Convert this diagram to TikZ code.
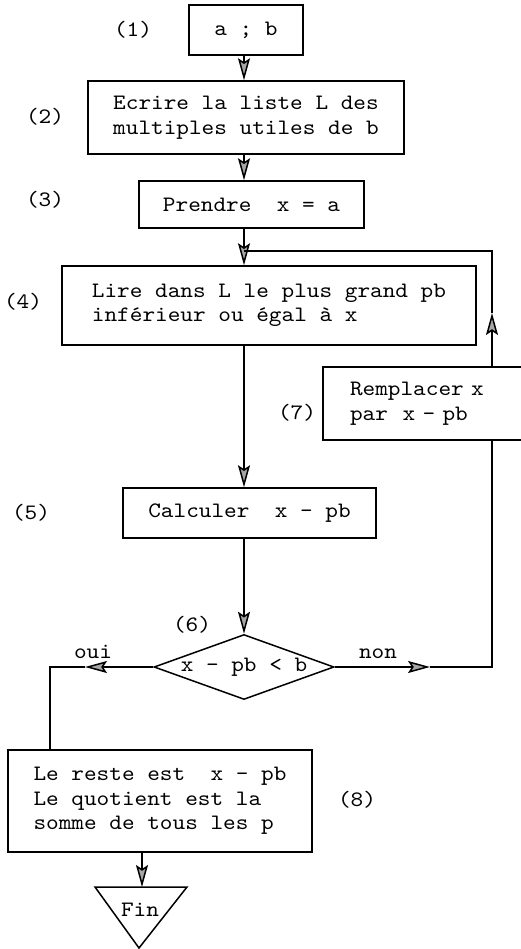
\documentclass[tikz,border=0pt]{standalone}
\usepackage{fontspec}
\newfontfamily\twfont{lmmono10-regular.otf}[FakeStretch=1.095]
\usetikzlibrary{arrows.meta,shapes.geometric}
\begin{document}
\begin{tikzpicture}[x=1pt,y=-1pt,
  every node/.style={font=\twfont\fontsize{22}{24.5}\selectfont},
  box/.style={draw, line width=1.5pt, inner sep=0pt, align=center},
  lbl/.style={inner sep=0pt},
  line/.style={line width=1.5pt},
  tip/.style={line width=1.5pt, -{Stealth[length=22pt,width=12pt,inset=4pt,fill=gray!70]}},
]
\useasboundingbox (0,0) rectangle (521,949);
\clip (0,0) rectangle (521,949);

% column and route coordinates
\coordinate (col) at (244,0);
\coordinate (lt) at (492,251);
\coordinate (upt) at (492,313);
\coordinate (ol) at (50,667);
\coordinate (ouit) at (85,667);
\coordinate (nr) at (492,667);
\coordinate (nont) at (430,667);

% boxes
\node[box, minimum width=114pt, minimum height=50pt] (b1) at (246,30) {a ; b};
\node[box, minimum width=316pt, minimum height=73pt] (b2) at (246,117.5) {Ecrire la liste L des\\multiples utiles de b};
\node[box, minimum width=225pt, minimum height=47pt] (b3) at (251.5,204.5) {Prendre~~x = a};
\node[box, align=left, minimum width=414pt, minimum height=79pt] (b4) at (269,305.5) {Lire dans L le plus grand pb\\inférieur ou égal à x};
\node[box, minimum width=253pt, minimum height=50pt] (b5) at (249.5,513) {Calculer~~x - pb};
\node[box, diamond, aspect=2.77, minimum width=180pt, minimum height=65pt] (d) at (244,667) {x - pb < b};
\node[box, align=left, inner xsep=27pt, text width=156pt, minimum height=73pt] (r) at (428,403.5) {Remplacer x\\par~~x - pb};
\node[box, align=left, minimum width=304pt, minimum height=102pt] (e) at (160,801) {Le reste est~~x - pb\\Le quotient est la\\somme de tous les p};

% end triangle
\coordinate (t1) at (95,887);
\coordinate (t2) at (187,887);
\coordinate (t3) at (139,948);
\coordinate (ttop) at (142,887);
\draw[line, line join=miter] (t1) -- (t2) -- (t3) -- cycle;
\node[lbl] (fin) at (140,910) {Fin};

% labels
\node[lbl] (l1) at (133,30) {(1)};
\node[lbl] (l2) at (45,117) {(2)};
\node[lbl] (l3) at (45,200) {(3)};
\node[lbl] (l4) at (23,302) {(4)};
\node[lbl] (l5) at (31,513) {(5)};
\node[lbl] (l6) at (192,625) {(6)};
\node[lbl] (l7) at (297,413) {(7)};
\node[lbl] (l8) at (357,800) {(8)};
\node[lbl] (oui) at (93,652) {oui};
\node[lbl] (non) at (378,654) {non};

% main column
\draw[tip] (b1.south -| col) -- (b2.north -| col);
\draw[tip] (b2.south -| col) -- (b3.north -| col);
\draw[tip] (b3.south -| col) -- (b4.north -| col);
\draw[tip] (b4.south -| col) -- (b5.north -| col);
\draw[tip] (b5.south -| col) -- (d.north);

% loop back
\draw[tip] (r.north -| lt) -- (upt);
\draw[line] (upt) -- (lt) -- (lt -| col);

% oui branch
\draw[tip] (d.west) -- (ouit);
\draw[line] (ouit) -- (ol) -- (ol |- e.north);

% non branch
\draw[tip] (d.east) -- (nont);
\draw[line] (nont) -- (nr) -- (r.south -| nr);

% to end
\draw[tip] (ttop |- e.south) -- (ttop);
\end{tikzpicture}
\end{document}
